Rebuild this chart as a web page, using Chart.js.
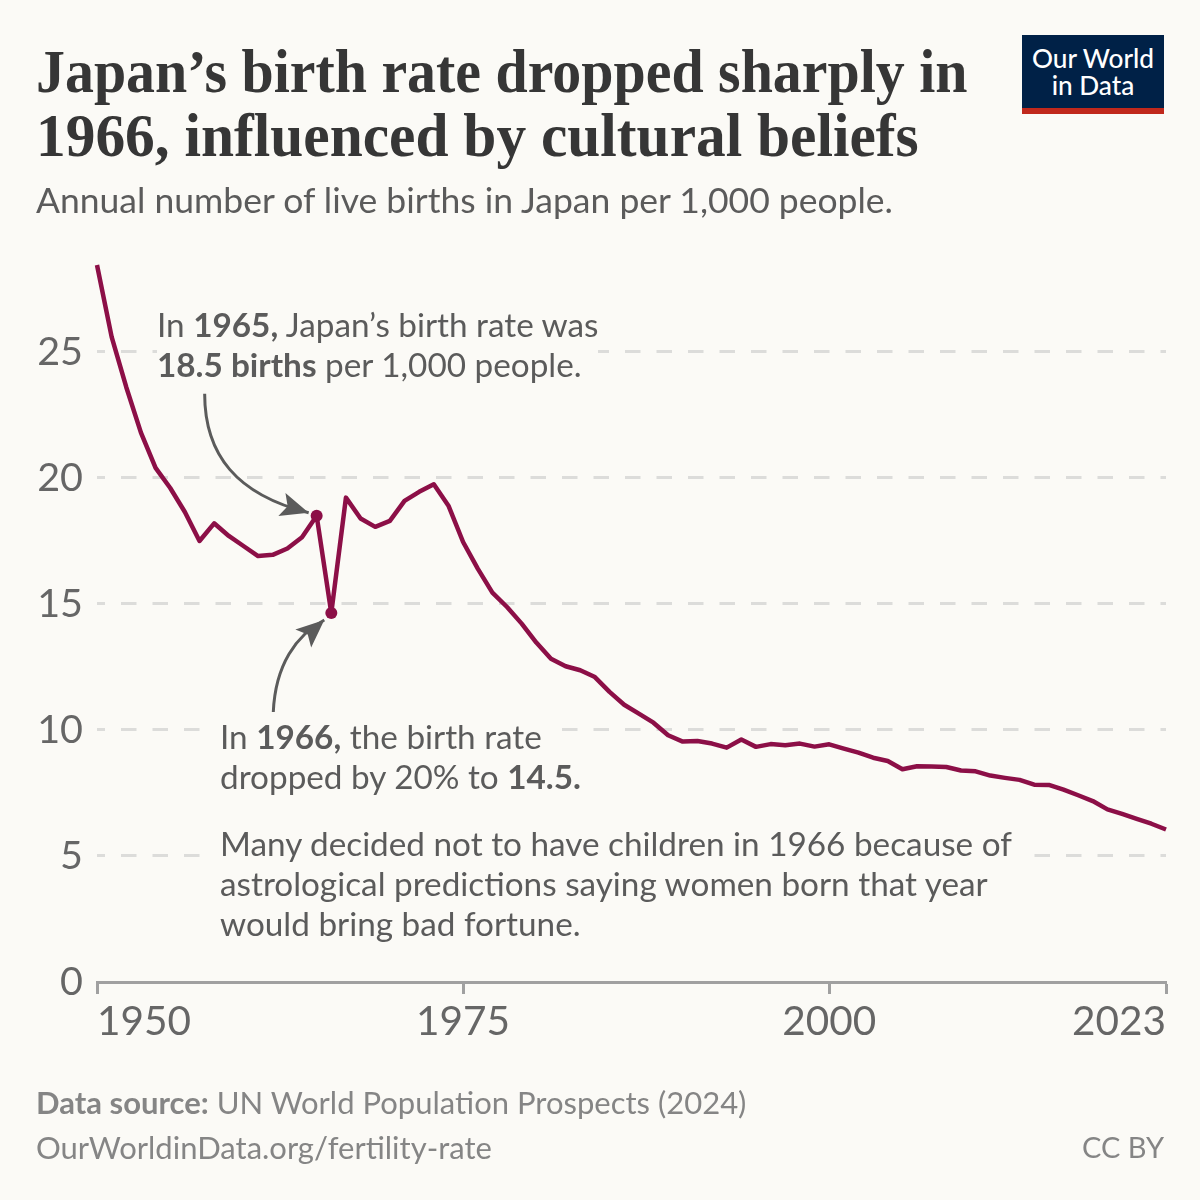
<!DOCTYPE html>
<html>
<head>
<meta charset="utf-8">
<script src="https://cdn.jsdelivr.net/npm/chart.js@4"></script>
<style>
html,body{margin:0;padding:0;background:#fbfaf6;}
#page{position:relative;width:1200px;height:1200px;overflow:hidden;background:#fbfaf6;font-family:Lato,sans-serif;}
#wrap{position:absolute;left:0;top:0;width:1200px;height:1200px;}
.t{position:absolute;white-space:nowrap;}
.title{left:36px;font-family:"Liberation Serif",serif;font-weight:700;font-size:62px;line-height:64px;color:#363636;transform-origin:left center;}
#subtitle{left:36px;top:179px;font-size:35.5px;line-height:42px;color:#5b5b5b;}
.note{font-size:33.3px;line-height:40px;color:#5b5b5b;}
.note div{width:fit-content;background:#fbfaf6;}
.note b{font-weight:700;}
#foot1{left:36px;top:1083px;font-size:31px;line-height:38px;color:#858585;}
#foot2{left:36px;top:1128px;font-size:31px;line-height:38px;color:#858585;}
#cc{right:36px;top:1128px;font-size:29px;line-height:38px;color:#858585;}
#logo{position:absolute;left:1022px;top:35px;width:142px;height:79px;background:#002147;}
#logo i{position:absolute;left:0;right:0;bottom:0;height:6px;background:#c0281c;}
#logo span{position:absolute;left:0;right:0;top:10px;text-align:center;color:#fff;font-weight:500;font-size:26.2px;line-height:26.5px;}
</style>
</head>
<body>
<div id="page">
<div id="wrap"><canvas id="c"></canvas></div>
<div class="t title" style="top:39px;transform:scaleX(0.934)">Japan’s birth rate dropped sharply in</div>
<div class="t title" style="top:103px;transform:scaleX(0.958)">1966, influenced by cultural beliefs</div>
<div class="t" id="subtitle">Annual number of live births in Japan per 1,000 people.</div>
<div id="logo"><span>Our World<br>in Data</span><i></i></div>
<div class="t note" style="left:157px;top:304px;">
  <div style="padding-right:16px">In <b>1965,</b> Japan’s birth rate was</div>
  <div style="padding-right:16px"><b>18.5 births</b> per 1,000 people.</div>
</div>
<div class="t note" style="left:204px;top:716px;">
  <div style="padding:0 20px 0 16px">In <b>1966,</b> the birth rate</div>
  <div style="padding:0 20px 0 16px">dropped by 20% to <b>14.5.</b></div>
</div>
<div class="t note" style="left:204px;top:823px;">
  <div style="padding:0 20px 0 16px">Many decided not to have children in 1966 because of</div>
  <div style="padding:0 20px 0 16px">astrological predictions saying women born that year</div>
  <div style="padding:0 20px 0 16px">would bring bad fortune.</div>
</div>
<div class="t" id="foot1"><b>Data source:</b> UN World Population Prospects (2024)</div>
<div class="t" id="foot2">OurWorldinData.org/fertility-rate</div>
<div class="t" id="cc">CC BY</div>
</div>
<script>
const years = [1950,1951,1952,1953,1954,1955,1956,1957,1958,1959,
  1960,1961,1962,1963,1964,1965,1966,1967,1968,1969,
  1970,1971,1972,1973,1974,1975,1976,1977,1978,1979,
  1980,1981,1982,1983,1984,1985,1986,1987,1988,1989,
  1990,1991,1992,1993,1994,1995,1996,1997,1998,1999,
  2000,2001,2002,2003,2004,2005,2006,2007,2008,2009,
  2010,2011,2012,2013,2014,2015,2016,2017,2018,2019,
  2020,2021,2022,2023];
const birthRate = [28.45,25.6,23.6,21.8,20.4,19.6,18.65,17.5,18.2,17.7,
  17.3,16.9,16.95,17.2,17.65,18.5,14.64,19.22,18.39,18.06,
  18.3,19.09,19.45,19.75,18.9,17.46,16.4,15.45,14.88,14.22,
  13.47,12.83,12.53,12.37,12.1,11.51,11.0,10.65,10.29,9.79,
  9.54,9.56,9.46,9.3,9.62,9.33,9.44,9.39,9.46,9.34,
  9.43,9.26,9.1,8.9,8.77,8.44,8.56,8.55,8.53,8.39,
  8.36,8.19,8.1,8.02,7.83,7.82,7.63,7.41,7.18,6.85,
  6.67,6.47,6.28,6.05];
const xTicks = [1950,1975,2000,2023];
const yTicks = [0,5,10,15,20,25];
const highlightYears = [1965,1966];

const lineColor = '#8c0f47';
const arrowColor = '#5b5b5b';

function arrow(ctx, p0, c1, c2, tip, angle) {
  ctx.save();
  ctx.strokeStyle = arrowColor;
  ctx.fillStyle = arrowColor;
  ctx.lineWidth = 3;
  ctx.beginPath();
  ctx.moveTo(p0[0], p0[1]);
  ctx.bezierCurveTo(c1[0], c1[1], c2[0], c2[1], tip[0], tip[1]);
  ctx.stroke();
  ctx.translate(tip[0], tip[1]);
  ctx.rotate(angle);
  ctx.beginPath();
  ctx.moveTo(0, 0);
  ctx.lineTo(-28, -12);
  ctx.lineTo(-22, 0);
  ctx.lineTo(-28, 12);
  ctx.closePath();
  ctx.fill();
  ctx.restore();
}

const arrowPlugin = {
  id: 'arrows',
  afterDatasetsDraw(chart) {
    const x = chart.scales.x, y = chart.scales.y, ctx = chart.ctx;
    const ax = x.getPixelForValue(1965), ay = y.getPixelForValue(birthRate[years.indexOf(1965)]);
    const bx = x.getPixelForValue(1966), by = y.getPixelForValue(birthRate[years.indexOf(1966)]);
    const t1 = [ax - 8, ay - 3];
    arrow(ctx, [t1[0]-104, t1[1]-119], [t1[0]-104, t1[1]-58], [t1[0]-72, t1[1]-18], t1, 0.30);
    const t2 = [bx - 7, by + 7];
    arrow(ctx, [t2[0]-51, t2[1]+92], [t2[0]-49, t2[1]+45], [t2[0]-28, t2[1]+15], t2, -0.72);
  }
};

new Chart(document.getElementById('c'), {
  type: 'line',
  data: {
    datasets: [{
      data: years.map((yr, i) => ({x: yr, y: birthRate[i]})),
      borderColor: lineColor,
      backgroundColor: lineColor,
      borderWidth: 4.5,
      tension: 0,
      clip: false,
      borderJoinStyle: 'round',
      borderCapStyle: 'butt',
      pointBorderWidth: 0,
      pointHoverRadius: 0,
      pointRadius: c => highlightYears.includes(c.raw.x) ? 6 : 0
    }]
  },
  options: {
    responsive: true,
    maintainAspectRatio: false,
    animation: false,
    events: [],
    layout: { padding: { left: 0, right: 34, top: 265, bottom: 158 } },
    plugins: { legend: {display: false}, tooltip: {enabled: false}, title: {display: false} },
    scales: {
      x: {
        type: 'linear',
        min: 1950,
        max: 2023,
        afterBuildTicks(s) { s.ticks = xTicks.map(v => ({value: v})); },
        afterFit(s) { s.height = 60; },
        border: { display: true, color: '#a0a0a0', width: 3 },
        grid: { drawOnChartArea: false, drawTicks: true, tickLength: 12, tickColor: '#a0a0a0', tickWidth: 3 },
        ticks: {
          align: 'inner', autoSkip: false, maxRotation: 0, minRotation: 0,
          padding: 4, color: '#666666',
          font: { family: 'Lato', size: 40.5 },
          callback: v => String(v)
        }
      },
      y: {
        type: 'linear',
        min: 0,
        max: 28.45,
        afterBuildTicks(s) { s.ticks = yTicks.map(v => ({value: v})); },
        afterFit(s) { s.width = 97; },
        border: { display: false, dash: [15.5,16], dashOffset: 7.5 },
        grid: { color: '#dcdcda', lineWidth: 3, drawTicks: false },
        ticks: {
          padding: 14, color: '#666666',
          font: { family: 'Lato', size: 39.5 },
          callback: v => String(v)
        }
      }
    }
  },
  plugins: [arrowPlugin]
});
</script>
</body>
</html>
